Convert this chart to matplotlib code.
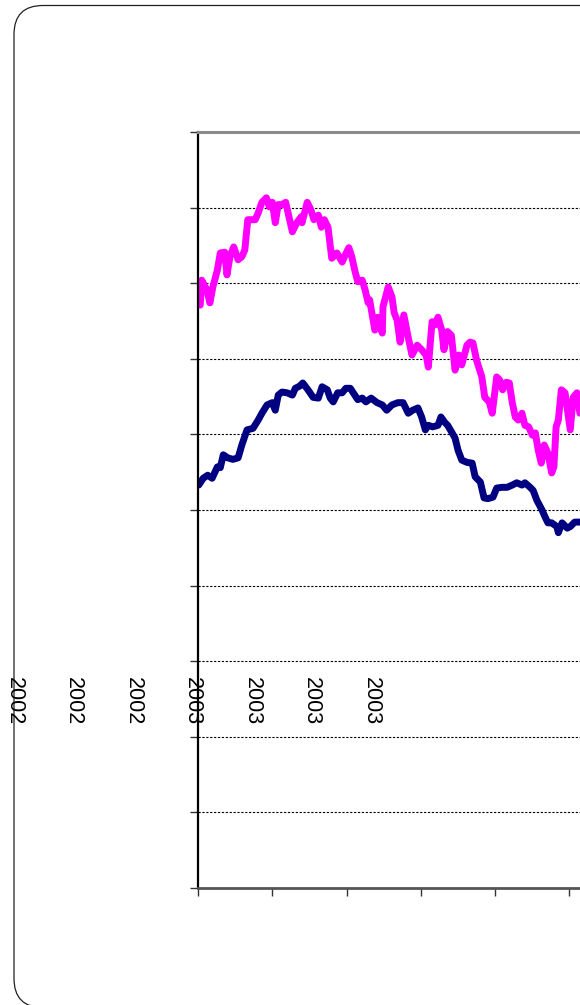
"""Two index series on a clipped Excel-style line chart."""

import matplotlib.pyplot as plt
from matplotlib.patches import FancyBboxPatch

# magenta series (x in tick units, y in gridline units)
pink_x = [0.03, 0.05, 0.12, 0.16, 0.20, 0.26, 0.30, 0.36, 0.39, 0.43, 0.48, 0.54,
          0.59, 0.63, 0.67, 0.77, 0.81, 0.86, 0.92, 0.96, 1.00, 1.04, 1.08, 1.13,
          1.18, 1.27, 1.33, 1.39, 1.40, 1.47, 1.52, 1.56, 1.62, 1.66, 1.70, 1.75,
          1.80, 1.87, 1.94, 1.98, 2.03, 2.07, 2.11, 2.15, 2.21, 2.25, 2.29, 2.31,
          2.38, 2.42, 2.48, 2.49, 2.56, 2.61, 2.64, 2.68, 2.72, 2.77, 2.83, 2.88,
          2.95, 3.01, 3.07, 3.10, 3.15, 3.19, 3.23, 3.28, 3.31, 3.36, 3.41, 3.46,
          3.51, 3.55, 3.62, 3.66, 3.70, 3.75, 3.82, 3.86, 3.92, 3.96, 4.02, 4.06,
          4.10, 4.15, 4.19, 4.23, 4.27, 4.31, 4.36, 4.40, 4.45, 4.50, 4.54, 4.58,
          4.62, 4.66, 4.71, 4.76, 4.79, 4.82, 4.85, 4.89, 4.94, 5.01, 5.05, 5.10,
          5.14]
pink_y = [7.71, 8.04, 7.91, 7.74, 7.95, 8.17, 8.40, 8.41, 8.11, 8.35, 8.48, 8.31,
          8.35, 8.44, 8.84, 8.84, 8.93, 9.07, 9.13, 9.01, 9.07, 8.80, 9.04, 9.04,
          9.07, 8.68, 8.80, 8.88, 8.80, 9.07, 8.97, 8.84, 8.90, 8.74, 8.84, 8.74,
          8.33, 8.40, 8.28, 8.37, 8.47, 8.35, 8.17, 8.02, 8.04, 7.91, 7.74, 7.78,
          7.38, 7.55, 7.34, 7.69, 7.95, 7.82, 7.61, 7.51, 7.22, 7.58, 7.28, 7.05,
          7.18, 7.12, 7.05, 6.89, 7.49, 7.45, 7.55, 7.38, 7.12, 7.36, 7.31, 6.85,
          7.05, 6.92, 7.18, 7.22, 7.21, 6.98, 6.76, 6.49, 6.43, 6.28, 6.76, 6.72,
          6.59, 6.69, 6.68, 6.42, 6.23, 6.19, 6.28, 6.12, 6.10, 5.99, 6.02, 5.79,
          5.62, 5.86, 5.75, 5.49, 5.57, 6.10, 6.19, 6.59, 6.55, 6.06, 6.49, 6.55,
          6.28]

# navy series
navy_x = [0.01, 0.07, 0.13, 0.19, 0.26, 0.30, 0.34, 0.40, 0.47, 0.54, 0.59, 0.66,
          0.74, 0.81, 0.86, 0.93, 1.00, 1.04, 1.08, 1.13, 1.20, 1.27, 1.31, 1.37,
          1.41, 1.48, 1.55, 1.62, 1.67, 1.74, 1.78, 1.82, 1.88, 1.94, 1.99, 2.05,
          2.09, 2.15, 2.21, 2.26, 2.33, 2.41, 2.48, 2.54, 2.61, 2.69, 2.76, 2.83,
          2.89, 2.96, 3.01, 3.06, 3.10, 3.16, 3.23, 3.27, 3.32, 3.36, 3.42, 3.46,
          3.50, 3.55, 3.62, 3.69, 3.73, 3.80, 3.85, 3.90, 3.97, 4.02, 4.09, 4.16,
          4.23, 4.29, 4.36, 4.40, 4.47, 4.51, 4.56, 4.63, 4.67, 4.71, 4.76, 4.83,
          4.85, 4.90, 4.97, 5.01, 5.07, 5.14]
navy_y = [5.33, 5.42, 5.46, 5.42, 5.57, 5.56, 5.73, 5.69, 5.67, 5.69, 5.86, 6.06,
          6.08, 6.19, 6.28, 6.39, 6.42, 6.32, 6.52, 6.56, 6.55, 6.52, 6.61, 6.64,
          6.68, 6.59, 6.49, 6.48, 6.63, 6.59, 6.48, 6.43, 6.55, 6.55, 6.61, 6.61,
          6.55, 6.46, 6.48, 6.43, 6.48, 6.42, 6.39, 6.32, 6.39, 6.42, 6.42, 6.28,
          6.32, 6.35, 6.23, 6.06, 6.12, 6.10, 6.12, 6.23, 6.16, 6.12, 6.02, 5.95,
          5.79, 5.66, 5.63, 5.62, 5.44, 5.37, 5.16, 5.15, 5.17, 5.29, 5.30, 5.30,
          5.33, 5.36, 5.33, 5.36, 5.30, 5.26, 5.13, 5.00, 4.91, 4.83, 4.83, 4.78,
          4.70, 4.83, 4.76, 4.78, 4.84, 4.84]

# stray year labels left of the plot
year_labels = ["2002", "2002", "2002", "2003", "2003", "2003", "2003"]

W, H = 580, 1005
fig = plt.figure(figsize=(W / 100, H / 100), dpi=100)

# rounded outer frame, drawn in pixel units
bg = fig.add_axes([0, 0, 1, 1])
bg.set_xlim(0, W)
bg.set_ylim(H, 0)
bg.axis("off")
bg.add_patch(FancyBboxPatch((14, 5.5), 700, 1002,
                            boxstyle="round,pad=0,rounding_size=29",
                            fc="white", ec="#202020", lw=0.9))

# plot area runs past the right edge of the picture
left, top, bottom = 198, 132, 888
unit = 74.3
n_ticks = 6
ax = fig.add_axes([left / W, 1 - bottom / H, n_ticks * unit / W, (bottom - top) / H])
ax.set_xlim(0, n_ticks)
ax.set_ylim(0, 10)
ax.set_facecolor("white")

ax.plot(pink_x, pink_y, color="#FF00FF", lw=5.0, solid_joinstyle="round",
        solid_capstyle="round")
ax.plot(navy_x, navy_y, color="#000080", lw=5.0, solid_joinstyle="round",
        solid_capstyle="round")

ax.set_yticks(range(11))
ax.set_xticks(range(n_ticks + 1))
ax.set_yticklabels([])
ax.set_xticklabels([])
ax.tick_params(direction="out", length=6, width=1.0, color="#333333")
ax.grid(axis="y", color="black", lw=0.8, ls=(0, (2, 1.5)))
ax.set_axisbelow(True)

ax.spines["right"].set_visible(False)
ax.spines["top"].set_color("#8a8a8a")
ax.spines["top"].set_linewidth(2.2)
ax.spines["left"].set_color("black")
ax.spines["left"].set_linewidth(1.6)
ax.spines["bottom"].set_color("#555555")
ax.spines["bottom"].set_linewidth(2.0)

for i, lab in enumerate(year_labels):
    fig.text((14 + 59.5 * i) / W, 1 - 677 / H, lab, rotation=270,
             ha="center", va="top", fontsize=15.5, family="Liberation Sans",
             zorder=10)

fig.savefig("out.png", dpi=100)
